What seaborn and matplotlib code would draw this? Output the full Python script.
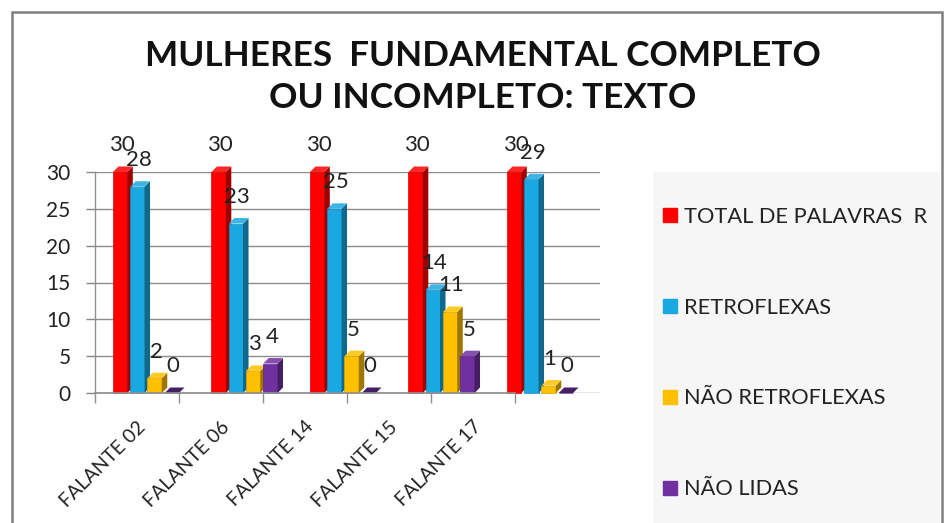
import numpy as np
import pandas as pd
import matplotlib
matplotlib.use("Agg")
import matplotlib.pyplot as plt
import seaborn as sns
from matplotlib.patches import Rectangle, Polygon
from matplotlib.lines import Line2D
import matplotlib.colors as mcolors
import matplotlib.transforms as mtransforms

# ---- data ----
categories = ["FALANTE 02", "FALANTE 06", "FALANTE 14", "FALANTE 15", "FALANTE 17"]
series = ["TOTAL DE PALAVRAS  R", "RETROFLEXAS", "NÃO RETROFLEXAS", "NÃO LIDAS"]
total_palavras = [30, 30, 30, 30, 30]
retroflexas = [28, 23, 25, 14, 29]
nao_retroflexas = [2, 3, 5, 11, 1]
nao_lidas = [0, 4, 0, 5, 0]
y_ticks = [0, 5, 10, 15, 20, 25, 30]
title = "MULHERES  FUNDAMENTAL COMPLETO\nOU INCOMPLETO: TEXTO"
colors = ["#FF0000", "#19A8E2", "#FFC000", "#7030A0"]

values = [total_palavras, retroflexas, nao_retroflexas, nao_lidas]
df = pd.DataFrame({
    "cat": [c for s in series for c in categories],
    "serie": [s for s in series for _ in categories],
    "val": [v for vals in values for v in vals],
})

sns.set_theme(style="white")
plt.rcParams["font.family"] = ["Lato", "DejaVu Sans"]

W, H = 945, 523
fig = plt.figure(figsize=(W / 100, H / 100), dpi=100)
fig.patch.set_facecolor("white")


def px(x0, y0, x1, y1):
    return [x0 / W, 1 - y1 / H, (x1 - x0) / W, (y1 - y0) / H]


# legend background panel and outer border
fig.add_artist(Rectangle((653 / W, 0), 287 / W, 1 - 172 / H,
                         transform=fig.transFigure, facecolor="#f6f6f6",
                         edgecolor="none", zorder=0))
fig.add_artist(Rectangle((12 / W, -0.02), 930 / W, 1.02 - 12 / H,
                         transform=fig.transFigure, facecolor="none",
                         edgecolor="#808080", linewidth=1.8, zorder=10,
                         clip_on=False))

AX_L, AX_R = 95, 600
ax = fig.add_axes(px(AX_L, 172, AX_R, 393))
ax.set_facecolor("none")
sns.barplot(data=df, x="cat", y="val", hue="serie", order=categories,
            hue_order=series, palette=colors, width=0.7, gap=0.17,
            saturation=1, ax=ax, legend=False, errorbar=None)

c0, step = 146.0, 98.5
ax.set_xlim(-(c0 - AX_L) / step, (AX_R - c0) / step)
ax.set_ylim(0, 30)
ax.set_yticks(y_ticks)
ax.set_yticklabels([str(t) for t in y_ticks], fontsize=15, color="#222222")
ax.tick_params(axis="y", length=6.5, width=1, color="#888888", direction="out",
               left=True, pad=11)
ax.set_xticks([])
ax.set_xlabel("")
ax.set_ylabel("")
for s in ["top", "right", "bottom"]:
    ax.spines[s].set_visible(False)
ax.spines["left"].set_color("#909090")
ax.spines["left"].set_linewidth(1)
ax.yaxis.grid(True, color="#8c8c8c", linewidth=1)
ax.set_axisbelow(True)

# pseudo-3D depth derived from the bar patches
fig.canvas.draw()
p0 = ax.transData.transform((0, 0))
p1 = ax.transData.transform((1, 1))
depth_px = 5.5
dx = depth_px / (p1[0] - p0[0])
dy = depth_px / (p1[1] - p0[1])

label_tf = ax.transData + mtransforms.ScaledTranslation(
    1 / 72, 8 / 72, fig.dpi_scale_trans)

for k, cont in enumerate(ax.containers):
    base = mcolors.to_rgb(colors[k])
    dark = tuple(c * 0.62 for c in base)
    light = tuple(min(1, c * 0.85 + 0.15) for c in base)
    z = 2 + 0.1 * k
    for patch, v in zip(cont.patches, values[k]):
        x0 = patch.get_x()
        w = patch.get_width()
        h = patch.get_height()
        x1 = x0 + w
        patch.set_zorder(z)
        patch.set_clip_on(False)
        patch.set_edgecolor(tuple(c * 0.85 for c in base))
        patch.set_linewidth(0.5)
        side = Polygon([(x1, 0), (x1 + dx, dy), (x1 + dx, h + dy), (x1, h)],
                       closed=True, facecolor=dark, edgecolor="none", zorder=z,
                       clip_on=False)
        top = Polygon([(x0, h), (x0 + dx, h + dy), (x1 + dx, h + dy), (x1, h)],
                      closed=True, facecolor=light if h > 0 else dark,
                      edgecolor="none", zorder=z + 0.01, clip_on=False)
        ax.add_patch(side)
        ax.add_patch(top)
        ax.text(x0 + w / 2, h + dy, str(v), ha="center", va="bottom",
                fontsize=16, color="#222222", zorder=5, transform=label_tf,
                clip_on=False)

# front category axis (floor)
ax2 = ax.twiny()
ax2.set_facecolor("none")
f0, fstep = 128.0, 85.6
bnd0 = 85.0
off = (bnd0 - f0) / fstep
ax2.set_xlim((AX_L - f0) / fstep, (AX_R - f0) / fstep)
ax2.xaxis.set_ticks_position("bottom")
ax2.xaxis.set_label_position("bottom")
for s in ["top", "right", "left"]:
    ax2.spines[s].set_visible(False)
ax2.spines["bottom"].set_visible(True)
ax2.spines["bottom"].set_position(("axes", 0))
ax2.spines["bottom"].set_bounds(off, off + len(categories))
ax2.spines["bottom"].set_color("#909090")
ax2.set_xticks(range(len(categories)))
ax2.set_xticklabels(categories, rotation=45, ha="right",
                    rotation_mode="anchor", fontsize=14, color="#222222")
ax2.set_xticks([i + off for i in range(len(categories) + 1)], minor=True)
ax2.tick_params(axis="x", which="major", length=0, pad=18, bottom=True)
ax2.tick_params(axis="x", which="minor", length=7, color="#909090",
                bottom=True, width=1)

# title
fig.text(483 / W, 1 - 77 / H, title, ha="center", va="center",
         fontsize=25.3, fontweight="bold", color="#111111", linespacing=1.35)

# legend
handles = [Line2D([0], [0], marker="s", linestyle="none", markersize=10,
                  markerfacecolor=c, markeredgecolor=c) for c in colors]
fig.legend(handles, series, loc="upper left",
           bbox_to_anchor=(650 / W, 1 - 198 / H), frameon=False,
           fontsize=15.7, labelspacing=3.25, handletextpad=0.15,
           handlelength=1.0, borderaxespad=0, labelcolor="#222222")

fig.savefig("out.png", dpi=100, facecolor="white")
